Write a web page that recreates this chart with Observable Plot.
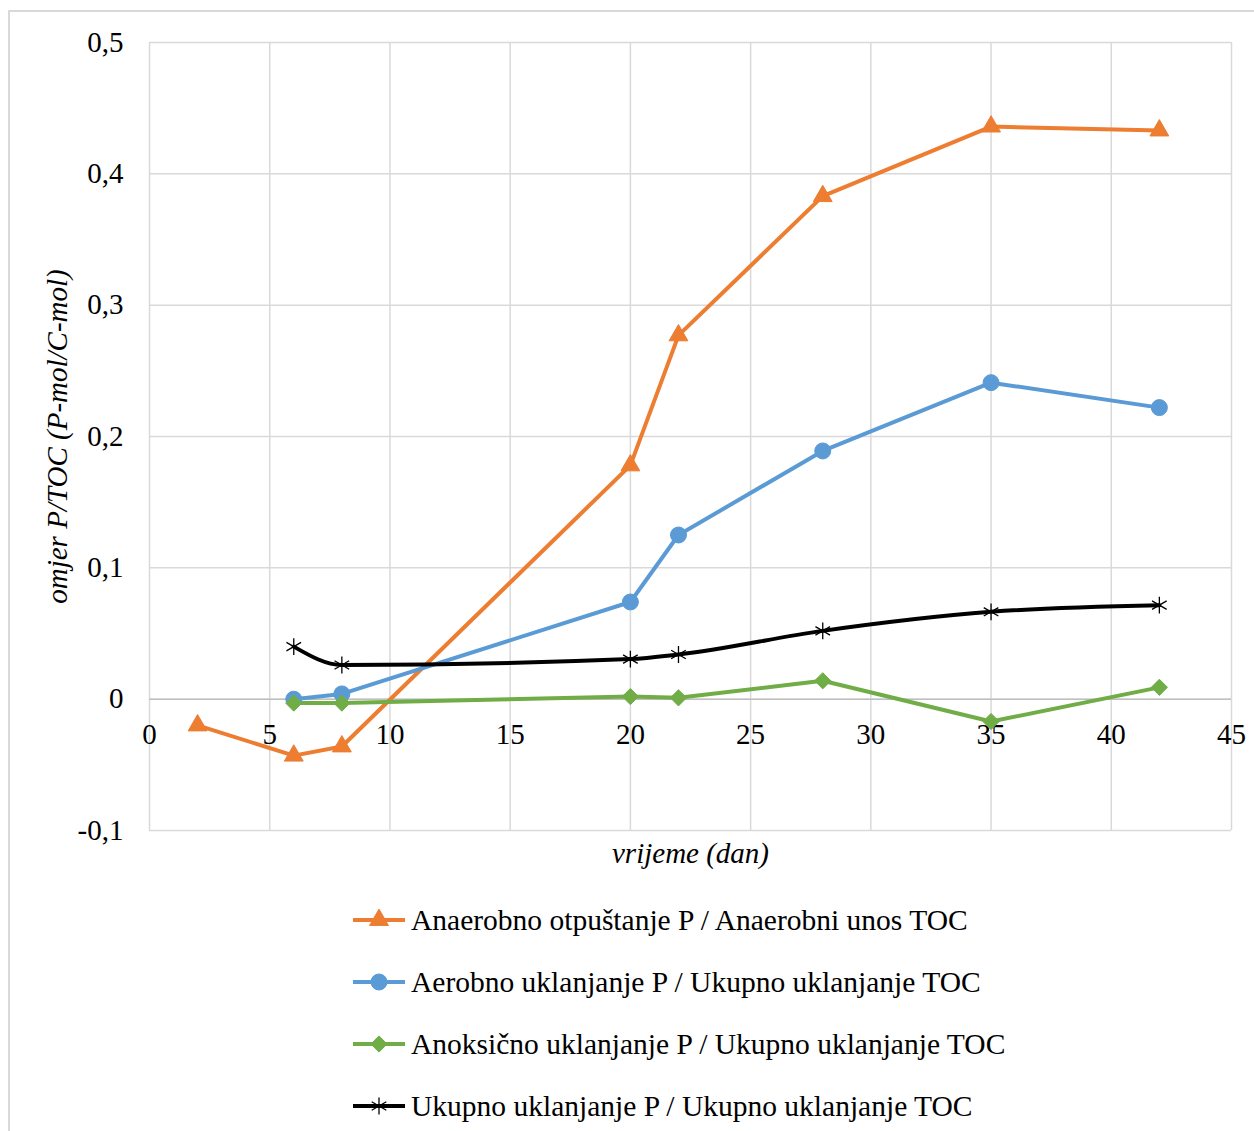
<!DOCTYPE html>
<html>
<head>
<meta charset="utf-8">
<script src="https://cdn.jsdelivr.net/npm/d3@7"></script>
<script src="https://cdn.jsdelivr.net/npm/@observablehq/plot@0.6"></script>
<style>
  html, body { margin: 0; padding: 0; background: #fff; }
  #wrap { position: relative; width: 1254px; height: 1131px; overflow: hidden; font-family: "Liberation Serif", "Times New Roman", serif; }
  #border { position: absolute; left: 8px; top: 10px; width: 1300px; height: 1200px; border: 2px solid #d9d9d9; box-sizing: border-box; }
  #chart { position: absolute; left: 0; top: 0; }
  #legend { position: absolute; left: 353px; top: 889px; }
  .row { display: flex; align-items: center; height: 62px; font-size: 29.5px; color: #000; white-space: nowrap; }
  .row svg { margin-right: 6px; }
</style>
</head>
<body>
<div id="wrap">
  <div id="border"></div>
  <div id="chart"></div>
  <div id="legend"></div>
</div>
<script>
const days = [2, 6, 8, 20, 22, 28, 35, 42];
const seriesNames = [
  "Anaerobno otpuštanje P / Anaerobni unos TOC",
  "Aerobno uklanjanje P / Ukupno uklanjanje TOC",
  "Anoksično uklanjanje P / Ukupno uklanjanje TOC",
  "Ukupno uklanjanje P / Ukupno uklanjanje TOC"
];
const anaerobno = [-0.020, -0.043, -0.036, 0.178, 0.277, 0.383, 0.436, 0.433];
const aerobno = [null, 0.000, 0.004, 0.074, 0.125, 0.189, 0.241, 0.222];
const anoksicno = [null, -0.003, -0.003, 0.002, 0.001, 0.014, -0.017, 0.009];
const ukupno = [null, 0.040, 0.026, 0.0305, 0.034, 0.052, 0.0665, 0.0716];
const xTicks = [0, 5, 10, 15, 20, 25, 30, 35, 40, 45];
const yTicks = [-0.1, 0, 0.1, 0.2, 0.3, 0.4, 0.5];
const xLabel = "vrijeme (dan)";
const yLabel = "omjer P/TOC (P-mol/C-mol)";

const colors = ["#ED7D31", "#5B9BD5", "#70AD47", "#000000"];
const symbols = ["triangle", "circle", "diamond2", "asterisk"];
const radii = [7, 8, 7.3, 8];
const allValues = [anaerobno, aerobno, anoksicno, ukupno];

const rows = [];
allValues.forEach((vals, s) => {
  vals.forEach((v, i) => {
    if (v !== null) rows.push({series: seriesNames[s], s, day: days[i], value: v});
  });
});
const fmt = d => String(d).replace(".", ",");
const serif = '"Liberation Serif", "Times New Roman", serif';

const marks = [
  Plot.gridX(xTicks, {stroke: "#d9d9d9", strokeOpacity: 1, strokeWidth: 1.5}),
  Plot.gridY(yTicks, {stroke: "#d9d9d9", strokeOpacity: 1, strokeWidth: 1.5}),
  Plot.ruleY([0], {stroke: "#bfbfbf", strokeWidth: 1.5}),
  Plot.axisY(yTicks, {tickSize: 0, tickPadding: 26, tickFormat: fmt, fontSize: 29, label: null}),
  Plot.text(xTicks, {x: d => d, y: () => 0, text: d => fmt(d), dy: 36, fontSize: 29, fill: "#000"}),
  Plot.text([xLabel], {frameAnchor: "bottom", lineAnchor: "middle", dy: 23, text: d => d, fontSize: 29, fontStyle: "italic", fill: "#000"}),
  Plot.text([yLabel], {frameAnchor: "left", textAnchor: "middle", lineAnchor: "middle", dx: -92, rotate: -90, text: d => d, fontSize: 29, fontStyle: "italic", fill: "#000"})
];
allValues.forEach((vals, s) => {
  const data = rows.filter(r => r.s === s);
  marks.push(Plot.line(data, {x: "day", y: "value", stroke: colors[s], strokeWidth: 4,
    curve: s === 3 ? "monotone-x" : "linear"}));
});
allValues.forEach((vals, s) => {
  const data = rows.filter(r => r.s === s);
  if (symbols[s] === "asterisk") {
    marks.push(Plot.dot(data, {x: "day", y: "value", symbol: "asterisk", r: radii[s], stroke: colors[s], strokeWidth: 1.3, fill: "none"}));
  } else {
    marks.push(Plot.dot(data, {x: "day", y: "value", symbol: symbols[s], r: radii[s], fill: colors[s], stroke: colors[s], strokeWidth: 1}));
  }
});

const chart = Plot.plot({
  width: 1254,
  height: 880,
  marginLeft: 149,
  marginRight: 23,
  marginTop: 42,
  marginBottom: 50,
  style: {fontFamily: serif, fontSize: "29px", color: "#000", background: "transparent"},
  x: {domain: [0, 45], axis: null},
  y: {domain: [-0.1, 0.5], axis: null},
  marks
});
document.getElementById("chart").appendChild(chart);

const legend = d3.select("#legend");
const symMap = {triangle: d3.symbolTriangle, circle: d3.symbolCircle, diamond2: d3.symbolDiamond2, asterisk: d3.symbolAsterisk};
seriesNames.forEach((name, s) => {
  const row = legend.append("div").attr("class", "row");
  const svg = row.append("svg").attr("width", 52).attr("height", 24);
  svg.append("line").attr("x1", 0).attr("x2", 52).attr("y1", 12).attr("y2", 12)
    .attr("stroke", colors[s]).attr("stroke-width", 4);
  const p = d3.symbol(symMap[symbols[s]], Math.PI * radii[s] * radii[s])();
  const g = svg.append("path").attr("d", p).attr("transform", "translate(26,12)");
  if (symbols[s] === "asterisk") g.attr("fill", "none").attr("stroke", colors[s]).attr("stroke-width", 1.3);
  else g.attr("fill", colors[s]).attr("stroke", colors[s]);
  row.append("span").text(name);
});
</script>
</body>
</html>
